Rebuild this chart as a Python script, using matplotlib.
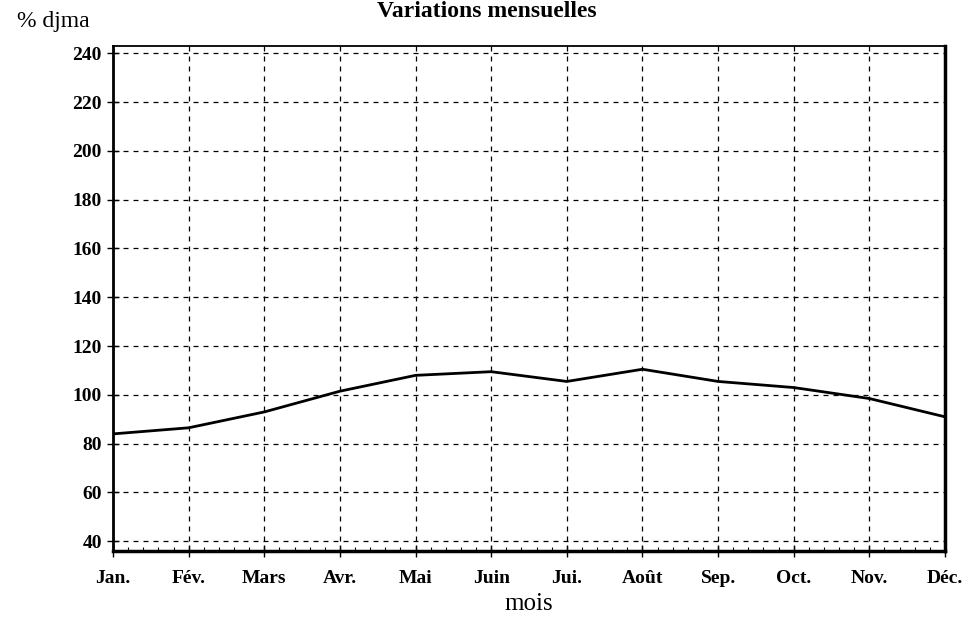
import matplotlib.pyplot as plt
from matplotlib.ticker import AutoMinorLocator

# Données
mois = ['Jan.', 'Fév.', 'Mars', 'Avr.', 'Mai', 'Juin', 'Jui.', 'Août', 'Sep.', 'Oct.', 'Nov.', 'Déc.']
pourcentage_djma = [84, 86.5, 93, 101.5, 108, 109.5, 105.5, 110.5, 105.5, 103, 98.5, 91]
graduations_y = [40, 60, 80, 100, 120, 140, 160, 180, 200, 220, 240]

plt.rcParams['font.family'] = ['Liberation Serif', 'DejaVu Serif']

fig = plt.figure(figsize=(9.74, 6.29), dpi=100)
ax = fig.add_axes([113 / 974, 1 - 551 / 629, (945 - 113) / 974, (551 - 46) / 629])

x = list(range(len(mois)))
ax.plot(x, pourcentage_djma, color='black', linewidth=2)

ax.set_xlim(0, len(mois) - 1)
ax.set_ylim(36, 243)
ax.set_xticks(x)
ax.set_xticklabels(mois, fontsize=14, fontweight='bold')
ax.set_yticks(graduations_y)
ax.set_yticklabels([str(v) for v in graduations_y], fontsize=14, fontweight='bold')
ax.xaxis.set_minor_locator(AutoMinorLocator(5))
ax.tick_params(which='major', direction='inout', length=8, width=1)
ax.tick_params(which='minor', direction='in', length=3, width=0.8)
ax.tick_params(axis='x', pad=10)
ax.tick_params(axis='y', pad=4)

ax.grid(True, which='major', color='black', linestyle=(0, (4, 4)), linewidth=0.9)
for s in ax.spines.values():
    s.set_linewidth(1.3)
ax.spines['bottom'].set_linewidth(2.5)
ax.spines['right'].set_linewidth(2.5)
ax.spines['left'].set_linewidth(2)

fig.text(0.5, 0.998, 'Variations mensuelles', ha='center', va='top', fontsize=17, fontweight='bold')
fig.text(17 / 974, 1 - 21 / 629, '% djma', ha='left', va='center', fontsize=17)
fig.text((113 + 945) / 2 / 974, 1 - 604 / 629, 'mois', ha='center', va='center', fontsize=18)

fig.savefig('out.png', dpi=100)
